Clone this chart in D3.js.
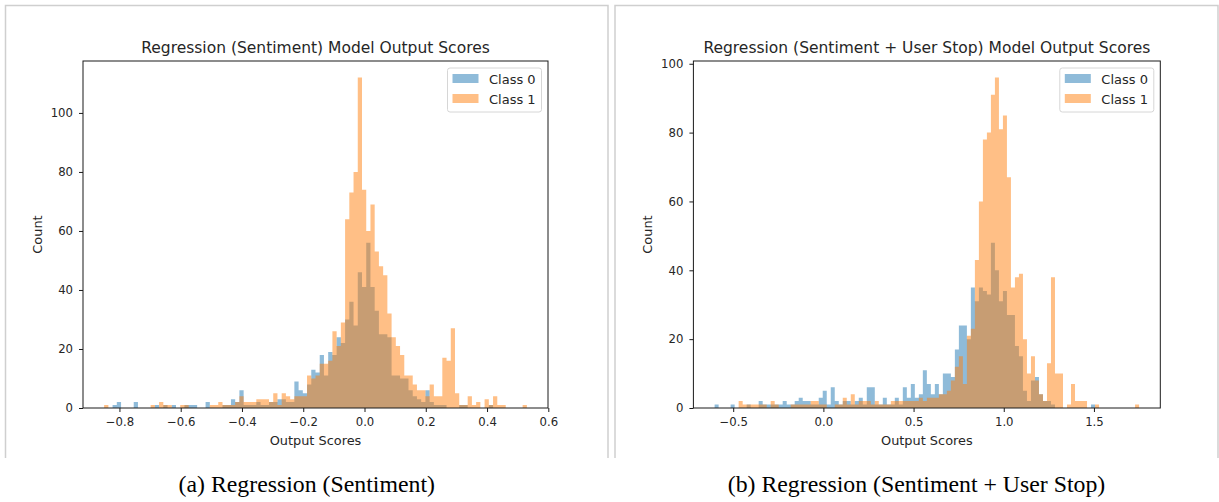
<!DOCTYPE html>
<html>
<head>
<meta charset="utf-8">
<script src="https://cdn.jsdelivr.net/npm/d3@7"></script>
<style>
  html, body { margin: 0; padding: 0; background: #fff; }
  svg { display: block; }
</style>
</head>
<body>
<div class="canvas"></div>
<script>
// ---- data ----
// (a) Regression (Sentiment): 100 bins starting at -0.85
const leftBinStart = -0.85;
const leftBinWidth = 0.0138;
const leftClass0 = [
  0,0,1,2,0,0,0,2,0,0,
  0,0,1,0,1,0,1,0,0,1,
  1,1,0,0,2,0,0,0,1,1,
  3,2,6,1,1,1,2,1,1,2,
  2,3,3,2,2,9,6,5,8,13,
  12,18,11,19,18,24,22,30,36,28,
  46,41,56,41,33,25,25,24,11,11,
  10,10,6,4,3,2,6,2,1,1,
  1,0,0,0,1,1,0,0,0,0,
  0,1,0,0,0,0,0,0,0,0
];
const leftClass1 = [
  1,0,0,0,0,0,0,0,0,0,
  0,1,0,2,1,1,0,0,1,1,
  0,0,0,0,0,1,1,2,1,1,
  1,2,4,2,2,2,3,3,3,2,
  5,1,5,4,3,4,4,4,11,10,
  11,15,15,16,26,21,29,64,73,80,
  112,74,60,69,53,48,45,32,24,21,
  18,11,11,8,6,6,4,8,4,4,
  17,16,27,5,1,1,4,1,2,0,
  3,1,4,1,1,0,0,0,0,1
];
const leftXTicks = [-0.8, -0.6, -0.4, -0.2, 0.0, 0.2, 0.4, 0.6];

// (b) Regression (Sentiment + User Stop): 106 bins starting at -0.603
const rightBinStart = -0.603;
const rightBinWidth = 0.0222;
const rightClass0 = [
  1,0,0,0,1,0,0,0,1,0,
  0,2,1,1,1,1,1,2,1,1,
  2,3,2,2,1,1,3,5,1,6,
  2,1,2,2,1,2,3,1,6,6,
  1,1,3,1,1,3,1,6,3,7,
  3,4,11,7,4,7,4,10,10,9,
  17,24,24,20,35,31,35,34,33,48,
  40,31,34,27,27,18,15,5,2,8,
  9,4,2,2,1,0,0,0,0,0,
  0,0,0,0,1,0,0,0,0,0,
  0,0,0,0,0,0
];
const rightClass1 = [
  0,0,0,0,0,0,2,1,1,1,
  1,1,1,0,2,1,0,0,0,1,
  1,1,1,1,2,2,1,1,0,0,
  1,1,3,1,4,1,2,2,2,1,
  2,1,1,1,2,2,2,2,2,2,
  2,3,2,3,3,3,4,4,5,8,
  12,15,7,21,23,43,60,78,80,91,
  96,81,85,67,35,38,39,20,10,15,
  8,4,2,13,38,10,10,0,1,7,
  2,2,2,0,0,1,0,0,0,0,
  0,0,0,0,0,1
];
const rightXTicks = [-0.5, 0.0, 0.5, 1.0, 1.5];

const yTicks = [0, 20, 40, 60, 80, 100];
const classNames = ['Class 0', 'Class 1'];
const classColours = ['#1f77b4', '#ff7f0e'];

const W = 1219, H = 502;
const sansFont = '"DejaVu Sans", sans-serif';
const serifFont = '"Liberation Serif", "Times New Roman", serif';
const textColour = '#262626';

const svg = d3.select('.canvas')
  .append('svg')
    .attr('width', W)
    .attr('height', H);

svg.append('rect').attr('width', W).attr('height', H).attr('fill', '#fff');

// one histogram panel
function drawPanel(p) {
  // light frame round the panel
  const frame = svg.append('g')
    .attr('stroke', '#cfcfcf')
    .attr('stroke-width', 1.5)
    .attr('fill', 'none');
  frame.append('path')
    .attr('d', `M${p.frameLeft},${p.frameBottom}V${p.frameTop}H${p.frameRight}V${p.frameBottom}`);

  const x = d3.scaleLinear().range([p.left, p.right]);
  const y = d3.scaleLinear().range([p.bottom, p.top]);

  // bin edges of each class
  const n = Math.max(p.counts[0].length, p.counts[1].length);
  const lo = p.binStart, hi = p.binStart + n * p.binWidth;
  const pad = (hi - lo) * 0.05;
  x.domain([lo - pad, hi + pad]);
  y.domain([0, d3.max(p.counts.flat()) * 1.05]);

  const area = d3.area()
    .curve(d3.curveStepAfter)
    .x(d => x(d[0]))
    .y0(y(0))
    .y1(d => y(d[1]));

  p.counts.forEach((counts, k) => {
    const pts = counts.map((c, i) => [p.binStart + i * p.binWidth, c]);
    pts.push([p.binStart + counts.length * p.binWidth, 0]);
    svg.append('path')
      .datum(pts)
      .attr('fill', classColours[k])
      .attr('fill-opacity', 0.5)
      .attr('d', area);
  });

  // axes
  const xAxis = d3.axisBottom(x)
    .tickValues(p.xTicks)
    .tickFormat(d3.format('.1f'))
    .tickSize(4)
    .tickSizeOuter(0)
    .tickPadding(6);
  const yAxis = d3.axisLeft(y)
    .tickValues(yTicks)
    .tickFormat(d3.format('d'))
    .tickSize(4)
    .tickSizeOuter(0)
    .tickPadding(6);

  const gx = svg.append('g')
    .attr('transform', `translate(0, ${p.bottom})`)
    .call(xAxis);
  const gy = svg.append('g')
    .attr('transform', `translate(${p.left}, 0)`)
    .call(yAxis);

  [gx, gy].forEach(g => {
    g.select('.domain').remove();
    g.selectAll('line').attr('stroke', '#1a1a1a').attr('stroke-width', 1);
    g.selectAll('text')
      .attr('fill', textColour)
      .style('font-family', sansFont)
      .style('font-size', '11.7px');
  });

  // spines
  svg.append('rect')
    .attr('x', p.left)
    .attr('y', p.top)
    .attr('width', p.right - p.left)
    .attr('height', p.bottom - p.top)
    .attr('fill', 'none')
    .attr('stroke', '#1a1a1a')
    .attr('stroke-width', 1);

  const cx = (p.left + p.right) / 2;

  // title
  svg.append('text')
    .attr('x', cx)
    .attr('y', 53)
    .attr('text-anchor', 'middle')
    .attr('fill', textColour)
    .style('font-family', sansFont)
    .style('font-size', '15.5px')
    .text(p.title);

  // axis labels
  svg.append('text')
    .attr('x', cx)
    .attr('y', 445)
    .attr('text-anchor', 'middle')
    .attr('fill', textColour)
    .style('font-family', sansFont)
    .style('font-size', '12.9px')
    .text('Output Scores');

  svg.append('text')
    .attr('transform', `translate(${p.left - 41.5}, ${(p.top + p.bottom) / 2}) rotate(-90)`)
    .attr('text-anchor', 'middle')
    .attr('fill', textColour)
    .style('font-family', sansFont)
    .style('font-size', '12.9px')
    .text('Count');

  // legend
  const lw = 94, lh = 44;
  const legend = svg.append('g')
    .attr('transform', `translate(${p.right - 6.5 - lw}, ${p.top + 7})`);
  legend.append('rect')
    .attr('width', lw)
    .attr('height', lh)
    .attr('rx', 2.5)
    .attr('fill', '#fff')
    .attr('fill-opacity', 0.8)
    .attr('stroke', '#d6d6d6')
    .attr('stroke-width', 1);
  const item = legend.selectAll('.legend-item')
    .data(classNames)
    .enter()
    .append('g')
      .attr('class', 'legend-item')
      .attr('transform', (d, i) => `translate(5, ${6 + i * 20})`);
  item.append('rect')
    .attr('width', 26)
    .attr('height', 9)
    .attr('fill', (d, i) => classColours[i])
    .attr('fill-opacity', 0.5);
  item.append('text')
    .attr('x', 36.5)
    .attr('y', 9.5)
    .attr('fill', textColour)
    .style('font-family', sansFont)
    .style('font-size', '13px')
    .text(d => d);

  // caption under the panel
  svg.append('text')
    .attr('x', (p.frameLeft + p.frameRight) / 2)
    .attr('y', 492)
    .attr('text-anchor', 'middle')
    .attr('fill', '#000')
    .style('font-family', serifFont)
    .style('font-size', '23.8px')
    .text(p.caption);
}

drawPanel({
  frameLeft: 5.5, frameRight: 608, frameTop: 5.5, frameBottom: 458,
  left: 83, right: 548, top: 61, bottom: 408,
  binStart: leftBinStart, binWidth: leftBinWidth,
  counts: [leftClass0, leftClass1],
  xTicks: leftXTicks,
  title: 'Regression (Sentiment) Model Output Scores',
  caption: '(a) Regression (Sentiment)'
});

drawPanel({
  frameLeft: 615, frameRight: 1218, frameTop: 5.5, frameBottom: 458,
  left: 693.4, right: 1160.3, top: 61, bottom: 408,
  binStart: rightBinStart, binWidth: rightBinWidth,
  counts: [rightClass0, rightClass1],
  xTicks: rightXTicks,
  title: 'Regression (Sentiment + User Stop) Model Output Scores',
  caption: '(b) Regression (Sentiment + User Stop)'
});
</script>
</body>
</html>
